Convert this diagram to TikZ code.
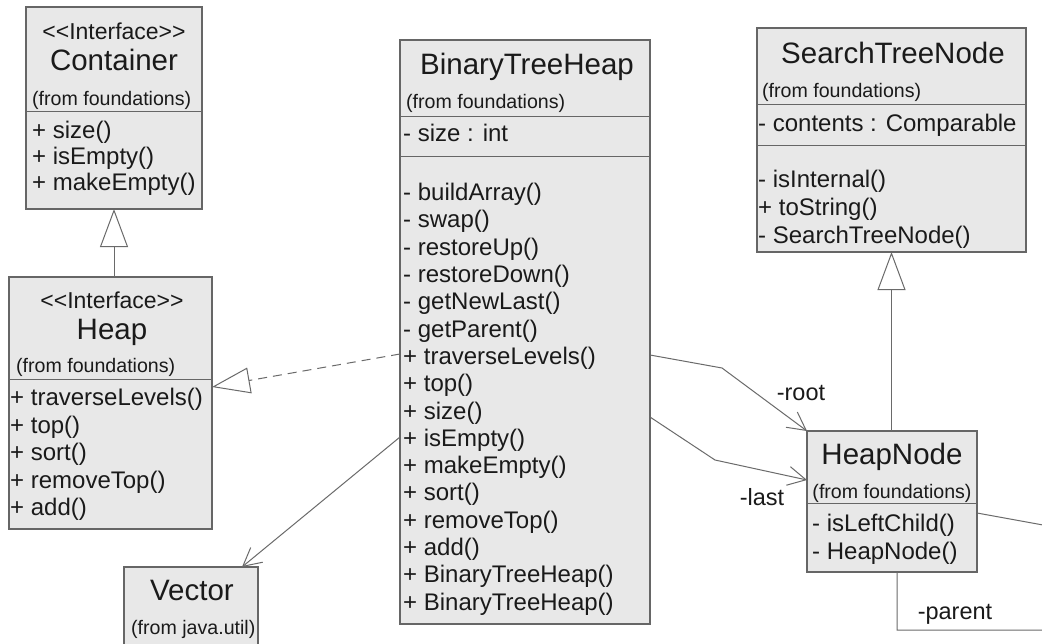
\documentclass[tikz,border=0pt]{standalone}
\usepackage{fontspec}
\setmainfont{Liberation Sans}
\usetikzlibrary{arrows.meta}
\definecolor{boxfill}{HTML}{E8E8E8}
\definecolor{boxline}{HTML}{666666}
\definecolor{connc}{HTML}{6A6A6A}
\definecolor{txt}{HTML}{1A1A1A}
\tikzset{
 classbox/.style={draw=boxline, fill=boxfill, line width=1.1pt, inner sep=0pt, outer sep=0pt, anchor=north west, rectangle},
 sepline/.style={draw=boxline, line width=1pt},
 ttl/.style={font=\fontsize{29.5}{32}\selectfont, text=txt, inner sep=0pt, anchor=mid, yshift=-5pt},
 meth/.style={font=\fontsize{24}{26}\selectfont, text=txt, inner sep=0pt, anchor=mid west, yshift=-5pt},
 stereo/.style={font=\fontsize{23}{26}\selectfont, text=txt, inner sep=0pt, anchor=mid, yshift=-5pt},
 small/.style={font=\fontsize{19.6}{21}\selectfont, text=txt, inner sep=0pt, anchor=mid west, yshift=-5pt},
 rolelabel/.style={font=\fontsize{23.5}{26}\selectfont, text=txt, inner sep=0pt, anchor=mid, yshift=-5pt},
 connline/.style={draw=connc, line width=1pt},
 assoc/.style={connline, -{Straight Barb[length=18pt,width=19pt,line width=1pt]}},
 gen/.style={connline, {Triangle[open,length=38pt,width=28pt,line width=1pt]}-},
 realize/.style={connline, dash pattern=on 9pt off 6pt, -{Triangle[open,length=38pt,width=26pt,line width=1pt]}},
}
\begin{document}
\begin{tikzpicture}[x=1pt,y=-1pt]
\useasboundingbox (0,0) rectangle (1042,643);
\clip (0,0) rectangle (1042,643);
\fill[white] (0,0) rectangle (1042,643);

% ---------- Container ----------
\node[classbox, minimum width=176pt, minimum height=202pt] (container) at (26,7) {};
\draw[sepline] (26,111) -- (202,111);
\node[stereo] (c0) at (114,32) {<\kern0pt<Interface>\kern0pt>};
\node[ttl] (c1) at (114,63) {Container};
\node[small] (c2) at (32,97.5) {(from foundations)};
\node[meth] (c3) at (32,131) {+ size()};
\node[meth] (c4) at (32,157) {+ isEmpty()};
\node[meth] (c5) at (32,183) {+ makeEmpty()};

% ---------- Heap ----------
\node[classbox, minimum width=203pt, minimum height=252pt] (heap) at (9,277) {};
\draw[sepline] (9,379) -- (212,379);
\node[stereo] (h0) at (112,301) {<\kern0pt<Interface>\kern0pt>};
\node[ttl] (h1) at (112,332) {Heap};
\node[small] (h2) at (16,365) {(from foundations)};
\node[meth] (h3) at (10,398) {+ traverseLevels()};
\node[meth] (h4) at (10,425.5) {+ top()};
\node[meth] (h5) at (10,453) {+ sort()};
\node[meth] (h6) at (10,480.5) {+ removeTop()};
\node[meth] (h7) at (10,508) {+ add()};

% ---------- BinaryTreeHeap ----------
\node[classbox, minimum width=250pt, minimum height=584pt] (bth) at (400,40) {};
\draw[sepline] (400,116) -- (650,116);
\draw[sepline] (400,156) -- (650,156);
\node[ttl] (b0) at (527,67) {BinaryTreeHeap};
\node[small] (b1) at (406,101) {(from foundations)};
\node[meth] (b2) at (403,134) {- size : int};
\node[meth] (m1) at (403,193) {- buildArray()};
\node[meth] (m2) at (403,220.3) {- swap()};
\node[meth] (m3) at (403,247.6) {- restoreUp()};
\node[meth] (m4) at (403,274.9) {- restoreDown()};
\node[meth] (m5) at (403,302.2) {- getNewLast()};
\node[meth] (m6) at (403,329.5) {- getParent()};
\node[meth] (m7) at (403,356.8) {+ traverseLevels()};
\node[meth] (m8) at (403,384.1) {+ top()};
\node[meth] (m9) at (403,411.4) {+ size()};
\node[meth] (m10) at (403,438.7) {+ isEmpty()};
\node[meth] (m11) at (403,466) {+ makeEmpty()};
\node[meth] (m12) at (403,493.3) {+ sort()};
\node[meth] (m13) at (403,520.6) {+ removeTop()};
\node[meth] (m14) at (403,547.9) {+ add()};
\node[meth] (m15) at (403,575.2) {+ BinaryTreeHeap()};
\node[meth] (m16) at (403,602.5) {+ BinaryTreeHeap()};

% ---------- SearchTreeNode ----------
\node[classbox, minimum width=269pt, minimum height=224pt] (stn) at (757,28) {};
\draw[sepline] (757,104) -- (1026,104);
\draw[sepline] (757,145) -- (1026,145);
\node[ttl] (s0) at (893,56) {SearchTreeNode};
\node[small] (s1) at (762,90) {(from foundations)};
\node[meth] (s2) at (758,124) {- contents : Comparable};
\node[meth] (s3) at (758,180) {- isInternal()};
\node[meth] (s4) at (758,208) {+ toString()};
\node[meth] (s5) at (758,236) {- SearchTreeNode()};

% ---------- HeapNode ----------
\node[classbox, minimum width=170pt, minimum height=141pt] (hn) at (807,431) {};
\draw[sepline] (807,503) -- (977,503);
\node[ttl] (n0) at (892,457) {HeapNode};
\node[small, anchor=mid] (n1) at (892,491) {(from foundations)};
\node[meth] (n2) at (812,524) {- isLeftChild()};
\node[meth] (n3) at (812,552) {- HeapNode()};

% ---------- Vector ----------
\node[classbox, minimum width=134pt, minimum height=100pt] (vec) at (124,567) {};
\node[ttl] (v0) at (192,593) {Vector};
\node[small] (v1) at (131,627) {(from java.util)};

% ---------- connectors ----------
\draw[gen] (container.south) -- (container.south |- heap.north);
\draw[gen] (stn.south) -- (stn.south |- hn.north);
\draw[realize] ([yshift=-314pt]bth.north west) -- ([yshift=-110pt]heap.north east);

\coordinate (rootbend) at (722,368);
\coordinate (lastbend) at (715,460);
\draw[assoc] ([yshift=-315pt]bth.north east) -- (rootbend) -- (hn.north west);
\draw[assoc] ([yshift=-377pt]bth.north east) -- (lastbend) -- ([yshift=-49pt]hn.north west);
\draw[assoc] ([yshift=-397pt]bth.north west) -- ([xshift=118pt]vec.north west);

\coordinate (pc1) at (1065,529);
\coordinate (pc2) at (1065,630);
\draw[connline] ([yshift=-82pt]hn.north east) -- (pc1) -- (pc2) -- ([xshift=5pt]hn.south |- pc2) -- ([xshift=5pt]hn.south);

\node[rolelabel] (lroot) at (801,393) {-root};
\node[rolelabel] (llast) at (762,498) {-last};
\node[rolelabel] (lparent) at (955,612) {-parent};
\end{tikzpicture}
\end{document}
